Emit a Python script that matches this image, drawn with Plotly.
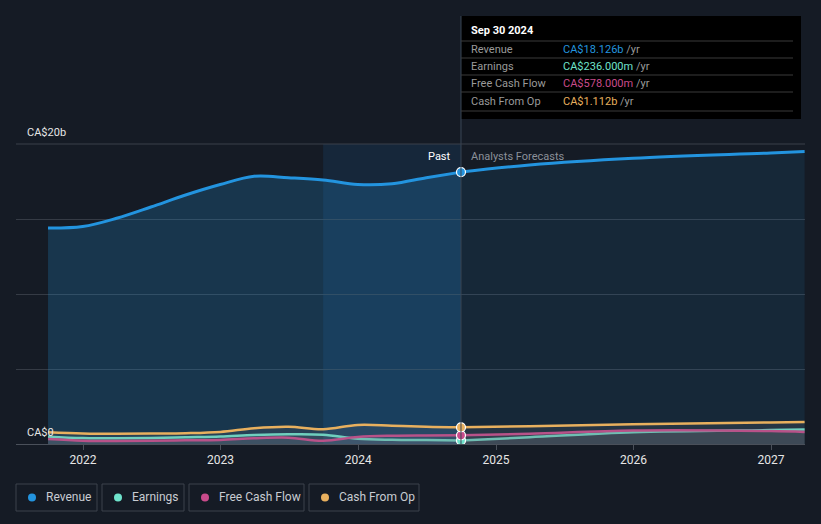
import plotly.graph_objects as go

# past (quarterly, trailing twelve months) and analyst forecast data, CA$ billions
past_dates = ['2021-09-30', '2021-12-31', '2022-03-31', '2022-06-30', '2022-09-30',
              '2022-12-31', '2023-03-31', '2023-06-30', '2023-09-30', '2023-12-31',
              '2024-03-31', '2024-06-30', '2024-09-30']
revenue_past = [14.4, 14.5, 15.05, 15.8, 16.6, 17.3, 17.85, 17.75, 17.6, 17.3, 17.35, 17.75, 18.126]
earnings_past = [0.49, 0.4, 0.38, 0.4, 0.45, 0.5, 0.6, 0.65, 0.62, 0.35, 0.28, 0.26, 0.236]
fcf_past = [0.33, 0.22, 0.2, 0.22, 0.25, 0.27, 0.38, 0.42, 0.22, 0.47, 0.55, 0.57, 0.578]
cfo_past = [0.78, 0.7, 0.68, 0.7, 0.72, 0.8, 1.05, 1.15, 0.98, 1.27, 1.22, 1.15, 1.112]

fc_dates = ['2024-09-30', '2025-03-31', '2025-12-31', '2026-12-31', '2027-03-31']
revenue_fc = [18.126, 18.6, 19.05, 19.4, 19.5]
earnings_fc = [0.236, 0.45, 0.78, 0.93, 0.97]
fcf_fc = [0.578, 0.68, 0.9, 0.86, 0.8]
cfo_fc = [1.112, 1.18, 1.32, 1.44, 1.47]

names = ['Revenue', 'Earnings', 'Free Cash Flow', 'Cash From Op']
colors = ['#2394df', '#6fe3cc', '#c94b8b', '#e8b05e']
tip_values = ['CA$18.126b', 'CA$236.000m', 'CA$578.000m', 'CA$1.112b']

BG = '#151b25'
W, H = 821, 524
L, R, T, B = 16, 16, 144, 80


def px(x):
    return (x - L) / (W - L - R)


def py(y):
    return (H - B - y) / (H - T - B)


fig = go.Figure()

# revenue: stronger fill for reported past, lighter for forecasts
fig.add_trace(go.Scatter(x=past_dates, y=revenue_past, mode='lines', line=dict(color=colors[0], width=3, shape='spline'),
                         fill='tozeroy', fillcolor='rgba(35,148,223,0.22)', hoverinfo='skip'))
fig.add_trace(go.Scatter(x=fc_dates, y=revenue_fc, mode='lines', line=dict(color=colors[0], width=3, shape='spline'),
                         fill='tozeroy', fillcolor='rgba(35,148,223,0.11)', hoverinfo='skip'))

# small series with grey fill underneath
small = [(earnings_past, earnings_fc), (fcf_past, fcf_fc), (cfo_past, cfo_fc)]
for (p, f), c in zip(small, colors[1:]):
    fig.add_trace(go.Scatter(x=past_dates, y=p, mode='lines', line=dict(color=c, width=2.5, shape='spline'),
                             fill='tozeroy', fillcolor='rgba(110,115,125,0.18)', hoverinfo='skip'))
    fig.add_trace(go.Scatter(x=fc_dates, y=f, mode='lines', line=dict(color=c, width=2.5, shape='spline'),
                             fill='tozeroy', fillcolor='rgba(110,115,125,0.18)', hoverinfo='skip'))

# markers at the last reported point
for s, c in zip([revenue_past, earnings_past, fcf_past, cfo_past], colors):
    fig.add_trace(go.Scatter(x=[past_dates[-1]], y=[s[-1]], mode='markers',
                             marker=dict(color=c, size=9, line=dict(color='white', width=1.2)), hoverinfo='skip'))

shapes = [
    # last-year highlight band
    dict(type='rect', xref='x', yref='paper', x0='2023-09-30', x1='2024-09-30', y0=0, y1=1,
         fillcolor='rgba(30,120,200,0.13)', line_width=0, layer='below'),
    # tooltip box
    dict(type='rect', xref='paper', yref='paper', x0=px(461), x1=px(801), y0=py(16), y1=py(119),
         fillcolor='#000000', line_width=0),
    # divider line
    dict(type='line', xref='x', yref='paper', x0='2024-09-30', x1='2024-09-30', y0=0, y1=py(16),
         line=dict(color='#3a4656', width=1)),
    dict(type='line', xref='paper', yref='paper', x0=0, x1=1, y0=1, y1=1, line=dict(color='#3b414b', width=1)),
]
for yy in [41, 58, 75, 92, 111]:
    shapes.append(dict(type='line', xref='paper', yref='paper', x0=px(461), x1=px(793), y0=py(yy), y1=py(yy),
                       line=dict(color='#3a3a3a', width=1)))

annotations = [
    dict(x=px(469), y=py(31), text='<b>Sep 30 2024</b>', font=dict(color='white', size=11)),
    dict(x=px(453), y=py(156), text='Past', font=dict(color='white', size=11), xanchor='right'),
    dict(x=px(469), y=py(156), text='Analysts Forecasts', font=dict(color='#8b9099', size=11)),
    dict(x=px(25), y=py(132), text='CA$20b', font=dict(color='#e6e6e6', size=11)),
    dict(x=px(25), y=py(432), text='CA$0', font=dict(color='#e6e6e6', size=11)),
]
for i, (n, c, v) in enumerate(zip(names, colors, tip_values)):
    yy = 49 + i * 17.4
    annotations.append(dict(x=px(469), y=py(yy), text=n, font=dict(color='#9a9a9a', size=11)))
    annotations.append(dict(x=px(561), y=py(yy),
                            text=f"<span style='color:{c}'>{v}</span> /yr",
                            font=dict(color='#9a9a9a', size=11)))

# custom legend boxes
legend_boxes = [(16, 97), (102, 184), (189, 304), (309, 419)]
for (x0, x1), n, c in zip(legend_boxes, names, colors):
    shapes.append(dict(type='rect', xref='paper', yref='paper', x0=px(x0), x1=px(x1), y0=py(511), y1=py(484),
                       line=dict(color='#3d434d', width=1), fillcolor='rgba(0,0,0,0)'))
    shapes.append(dict(type='circle', xref='paper', yref='paper', xsizemode='pixel', ysizemode='pixel',
                       xanchor=px(x0 + 16), yanchor=py(497.5), x0=-4, x1=4, y0=-4, y1=4,
                       fillcolor=c, line_width=0))
    annotations.append(dict(x=px(x0 + 28), y=py(497.5), text=n, font=dict(color='#c8ccd2', size=12)))

for a in annotations:
    a.setdefault('xref', 'paper')
    a.setdefault('yref', 'paper')
    a.setdefault('xanchor', 'left')
    a.setdefault('yanchor', 'middle')
    a['showarrow'] = False

fig.update_layout(
    width=W, height=H,
    margin=dict(l=L, r=R, t=T, b=B),
    paper_bgcolor=BG, plot_bgcolor=BG,
    font=dict(family='Roboto', color='#dddddd'),
    showlegend=False,
    shapes=shapes,
    annotations=annotations,
    xaxis=dict(type='date', range=['2021-07-07', '2027-04-01'], tick0='2022-01-01', dtick='M12',
               tickformat='%Y', showgrid=False, ticks='outside', ticklen=5, tickcolor='#4a505a',
               tickfont=dict(color='#e6e6e6', size=12), showline=True, linecolor='#4a505a', zeroline=False),
    yaxis=dict(range=[0, 20], dtick=5, showticklabels=False, gridcolor='#353b45', gridwidth=1,
               zeroline=False, showline=False),
)

fig.write_html("out.html", config={'displayModeBar': False},
               post_script="document.body.style.margin='0';document.body.style.background='%s';" % BG)
